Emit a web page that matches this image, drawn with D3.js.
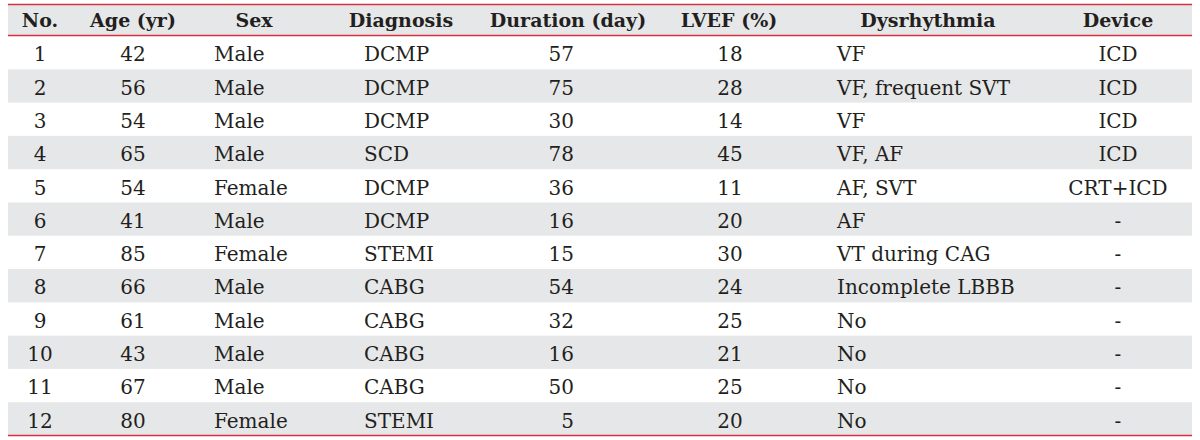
<!DOCTYPE html>
<html>
<head>
<meta charset="utf-8">
<script src="https://cdn.jsdelivr.net/npm/d3@7"></script>
<style>
  html, body { margin: 0; padding: 0; background: #ffffff; }
  svg { display: block; }
</style>
</head>
<body>
<svg id="chart" width="1200" height="440"></svg>
<script>
// ---- data ----
const headers = ["No.", "Age (yr)", "Sex", "Diagnosis", "Duration (day)", "LVEF (%)", "Dysrhythmia", "Device"];
const patientNo = ["1","2","3","4","5","6","7","8","9","10","11","12"];
const age = [42, 56, 54, 65, 54, 41, 85, 66, 61, 43, 67, 80];
const sex = ["Male","Male","Male","Male","Female","Male","Female","Male","Male","Male","Male","Female"];
const diagnosis = ["DCMP","DCMP","DCMP","SCD","DCMP","DCMP","STEMI","CABG","CABG","CABG","CABG","STEMI"];
const duration = [57, 75, 30, 78, 36, 16, 15, 54, 32, 16, 50, 5];
const lvef = [18, 28, 14, 45, 11, 20, 30, 24, 25, 21, 25, 20];
const dysrhythmia = ["VF","VF, frequent SVT","VF","VF, AF","AF, SVT","AF","VT during CAG","Incomplete LBBB","No","No","No","No"];
const device = ["ICD","ICD","ICD","ICD","CRT+ICD","-","-","-","-","-","-","-"];

const columns = [patientNo, age, sex, diagnosis, duration, lvef, dysrhythmia, device];

// ---- layout (not data) ----
const W = 1200, H = 440;
const left = 8, right = 1192;
const topLine = 4.5, headBottom = 35.5, tableBottom = 435.5;
const colLayout = [
  { hx: 40,   cx: 40,   anchor: "middle" },
  { hx: 133,  cx: 133,  anchor: "middle" },
  { hx: 254,  cx: 214,  anchor: "start" },
  { hx: 401,  cx: 364,  anchor: "start" },
  { hx: 568,  cx: 574,  anchor: "end" },
  { hx: 729,  cx: 730,  anchor: "middle" },
  { hx: 928,  cx: 837,  anchor: "start" },
  { hx: 1118, cx: 1118, anchor: "middle" }
];

const red = "#d1323f";
const band = "#e6e7e8";
const ink = "#231f20";
const font = "'DejaVu Serif', serif";
const headSize = 19;
const bodySize = 20;

const svg = d3.select("#chart");

const y = d3.scaleBand()
  .domain(patientNo)
  .range([headBottom + 0.5, tableBottom])
  .paddingInner(0).paddingOuter(0);

// header background
svg.append("rect")
  .attr("x", left).attr("y", topLine)
  .attr("width", right - left).attr("height", headBottom - topLine)
  .attr("fill", band);

// striped row backgrounds (even rows)
svg.append("g").selectAll("rect")
  .data(patientNo.filter((d, i) => i % 2 === 1))
  .join("rect")
  .attr("x", left)
  .attr("y", d => y(d))
  .attr("width", right - left)
  .attr("height", y.bandwidth())
  .attr("fill", band);

// rules
[topLine, headBottom, tableBottom].forEach(v => {
  svg.append("line")
    .attr("x1", left).attr("x2", right)
    .attr("y1", v).attr("y2", v)
    .attr("stroke", red).attr("stroke-width", 1.4);
});

// header text
svg.append("g").selectAll("text")
  .data(headers)
  .join("text")
  .attr("x", (d, i) => colLayout[i].hx)
  .attr("y", (topLine + headBottom) / 2 + 0.5)
  .attr("dy", "0.35em")
  .attr("text-anchor", "middle")
  .attr("font-family", font)
  .attr("font-weight", "bold")
  .attr("font-size", headSize)
  .attr("fill", ink)
  .text(d => d);

// body cells
const body = svg.append("g");
columns.forEach((col, ci) => {
  body.append("g").selectAll("text")
    .data(col)
    .join("text")
    .attr("x", colLayout[ci].cx)
    .attr("y", (d, ri) => y(patientNo[ri]) + y.bandwidth() / 2 + 1.5)
    .attr("dy", "0.36em")
    .attr("text-anchor", colLayout[ci].anchor)
    .attr("font-family", font)
    .attr("font-size", bodySize)
    .attr("fill", ink)
    .text(d => d);
});
</script>
</body>
</html>
